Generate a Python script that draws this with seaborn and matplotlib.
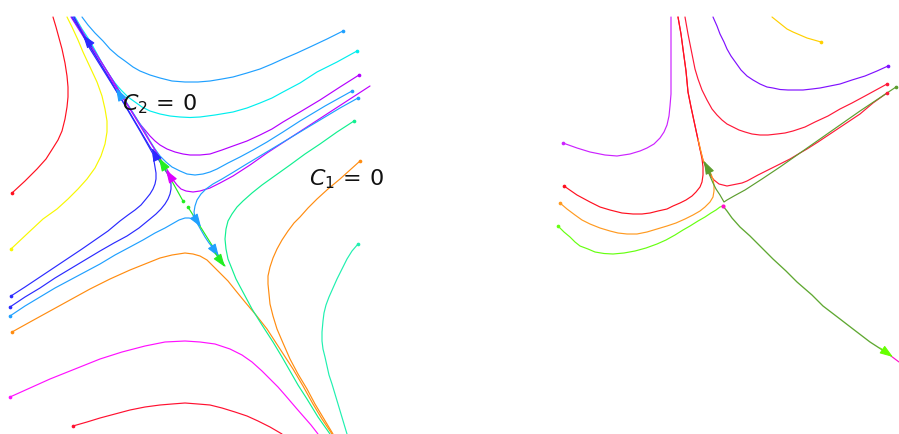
import matplotlib
matplotlib.use("Agg")
import matplotlib.pyplot as plt
import seaborn as sns

# ---------------- data (pixel coordinates) ----------------
# Left panel trajectories
L_red1_x = [53, 56, 59, 62, 65, 67, 68, 68, 67, 65, 62, 58, 53, 46, 37, 25, 12]
L_red1_y = [18, 28, 39, 50, 64, 77, 88, 98, 108, 120, 132, 141, 149, 160, 170, 182, 194]
L_yellow_x = [67, 72, 78, 83, 90, 97, 102, 105, 107, 107, 105, 101, 95, 87, 78, 68, 57, 43, 28, 11]
L_yellow_y = [18, 28, 41, 53, 68, 83, 97, 110, 122, 133, 145, 157, 169, 180, 190, 200, 210, 220, 234, 250]
L_lblue1_x = [82, 88, 95, 103, 110, 118, 125, 133, 140, 150, 160, 172, 185, 198, 210, 222, 233,
              247, 260, 272, 283, 297, 310, 327, 343]
L_lblue1_y = [18, 26, 34, 42, 50, 57, 62, 68, 72, 76, 79, 82, 83, 83, 82, 80, 78,
              74, 70, 65, 60, 54, 48, 40, 32]
L_cyan_x = [75, 82, 90, 96, 102, 108, 115, 121, 128, 135, 142, 150, 160, 170, 180, 190, 200,
            215, 233, 247, 260, 272, 283, 300, 317, 337, 357]
L_cyan_y = [18, 30, 42, 53, 64, 74, 84, 91, 98, 103, 108, 112, 115, 117, 118, 118.5, 118,
            116, 113, 109, 104, 99, 93, 84, 73, 63, 52]
L_purple1_x = [71, 105, 140, 145, 150, 155, 160, 167, 175, 183, 190, 200, 210, 222, 233,
               247, 260, 272, 283, 300, 320, 340, 359]
L_purple1_y = [18, 72, 125, 131, 137, 142, 146, 150, 153, 155, 156, 156, 155, 151, 147,
               142, 136, 130, 123, 113, 101, 88, 76]
L_lblue2_x = [73, 107, 140, 145, 150, 155, 160, 166, 172, 180, 187, 195, 203, 210, 217, 228,
              240, 253, 267, 283, 300, 325, 352]
L_lblue2_y = [18, 72, 125, 133, 142, 150, 157, 163, 168, 172, 175, 176, 175, 173, 170, 164,
              158, 151, 143, 133, 122, 107, 92]
L_purple2_x = [370, 350, 330, 310, 290, 267, 250, 233, 220, 210, 200, 193, 186, 181, 177, 174,
               171, 150, 130, 110, 90, 74]
L_purple2_y = [87, 100, 113, 126, 139, 154, 166, 177, 184, 189, 192, 193, 192, 190, 186, 182,
               177, 143, 110, 77, 45, 18]
L_lblue3_x = [358, 340, 320, 300, 280, 260, 245, 232, 222, 213, 206, 201, 197, 195, 194, 195,
              197, 201, 205, 209, 213]
L_lblue3_y = [99, 109, 121, 133, 145, 157, 166, 174, 180, 185, 190, 195, 201, 207, 213, 219,
              224, 231, 238, 244, 249]
L_lblue4_x = [10, 25, 40, 55, 70, 85, 100, 115, 130, 143, 155, 165, 172, 179, 185, 189, 193, 197]
L_lblue4_y = [317, 307, 298, 289, 281, 273, 265, 256, 248, 241, 234, 229, 225, 221, 219, 219, 220, 223]
L_blue1_x = [11, 25, 40, 55, 70, 82, 95, 108, 120, 128, 135, 141, 146, 150, 153, 155, 156, 156,
             155, 154, 153, 140, 120, 100, 84, 72]
L_blue1_y = [297, 288, 278, 268, 258, 250, 241, 232, 222, 216, 211, 206, 200, 195, 190, 185, 180,
             174, 168, 162, 155, 132, 98, 64, 37, 18]
L_blue2_x = [10, 25, 40, 55, 70, 85, 100, 114, 127, 139, 150, 156, 161, 165, 168, 170, 171, 171,
             170, 167, 163, 157, 150, 130, 110, 90, 74]
L_blue2_y = [308, 298, 289, 279, 270, 261, 252, 244, 237, 229, 220, 215, 210, 205, 200, 195, 190,
             185, 180, 174, 168, 158, 148, 114, 82, 50, 18]
L_orange1_x = [12, 30, 50, 70, 90, 110, 130, 145, 160, 172, 185, 193, 200, 207, 213, 220, 228,
               236, 245, 256, 267, 280, 293, 303, 313, 322, 332]
L_orange1_y = [333, 323, 312, 301, 290, 280, 271, 265, 259, 256, 254, 255, 257, 261, 267, 274, 282,
               292, 303, 316, 330, 350, 370, 387, 405, 420, 435]
L_sgreen1_x = [354, 337, 320, 305, 290, 276, 262, 252, 243, 237, 232, 228, 226, 225, 226, 228, 232,
               236, 244, 252, 262, 273, 282, 290, 298, 307, 318, 330]
L_sgreen1_y = [122, 133, 145, 155, 166, 176, 186, 194, 202, 208, 215, 222, 230, 240, 250, 260, 270,
               280, 295, 310, 326, 343, 358, 372, 386, 400, 418, 435]
L_orange2_x = [360, 350, 340, 328, 317, 308, 300, 294, 288, 282, 277, 273, 270, 268, 268, 269, 270,
               273, 277, 283, 290, 298, 307, 315, 324, 333]
L_orange2_y = [162, 171, 180, 190, 200, 209, 218, 224, 232, 241, 250, 259, 268, 277, 285, 295, 305,
               317, 330, 344, 360, 375, 390, 405, 420, 435]
L_sgreen2_x = [358, 352, 347, 342, 337, 333, 329, 326, 324, 323, 322, 322, 323, 325, 327, 329, 332,
               335, 338, 341, 344, 347]
L_sgreen2_y = [245, 252, 260, 270, 280, 289, 298, 306, 314, 322, 333, 342, 350, 358, 367, 376, 385,
               395, 405, 415, 425, 435]
L_magenta_x = [10, 30, 50, 75, 100, 122, 145, 165, 185, 200, 215, 230, 242, 252, 262, 270, 278,
               285, 291, 297, 304, 311, 318]
L_magenta_y = [398, 389, 380, 370, 360, 353, 347, 343, 342, 343, 345, 350, 356, 363, 372, 380, 388,
               396, 403, 410, 418, 426, 435]
L_red2_x = [73, 87, 100, 115, 130, 145, 160, 172, 185, 198, 210, 222, 235, 247, 258, 270, 282]
L_red2_y = [427, 423, 419, 415, 411, 408, 406, 405, 404, 405, 406, 409, 413, 417, 422, 428, 435]
L_greenA_x = [183, 159]
L_greenA_y = [202, 159]
L_greenB_x = [188, 225]
L_greenB_y = [208, 267]

# Right panel trajectories
R_magenta_x = [563, 577, 590, 605, 617, 630, 640, 647, 654, 660, 664, 667, 669, 670, 671, 671, 671,
               671, 671]
R_magenta_y = [144, 149, 153, 156, 157, 155, 152, 149, 145, 139, 133, 126, 117, 107, 95, 80, 60,
               40, 18]
R_yellow_x = [821, 814, 807, 800, 793, 787, 782, 777, 772]
R_yellow_y = [43, 41, 39, 36, 33, 30, 26, 22, 18]
R_purple_x = [888, 877, 865, 852, 840, 830, 820, 812, 803, 795, 788, 780, 773, 767, 760, 753, 747,
              741, 736, 731, 727, 724, 720, 717, 713]
R_purple_y = [67, 72, 77, 81, 85, 87, 89, 90, 91, 91, 91, 90.5, 89, 88, 85, 81, 77,
              71, 64, 57, 50, 43, 35, 27, 18]
R_red1_x = [887, 876, 865, 852, 840, 828, 815, 805, 793, 785, 777, 768, 760, 752, 745, 739, 733,
            727, 722, 717, 712, 707, 702, 698, 695, 693, 690, 688, 685]
R_red1_y = [85, 91, 97, 104, 110, 117, 123, 128, 132, 134, 135, 136, 136, 135, 133, 131, 128,
            125, 121, 116, 110, 101, 91, 80, 70, 60, 45, 35, 18]
R_red2_x = [887, 873, 860, 845, 830, 818, 807, 800, 790, 780, 770, 758, 747, 742, 737, 732, 727,
            723, 719, 714, 710, 706, 703, 700, 697, 694, 691, 688, 686, 683, 681, 678]
R_red2_y = [94, 104, 115, 125, 135, 143, 150, 154, 160, 165, 170, 176, 182, 184, 185, 186, 187,
            186, 185, 181, 176, 169, 161, 150, 136, 122, 108, 93, 72, 50, 35, 18]
R_red3_x = [564, 577, 590, 600, 610, 622, 633, 642, 650, 658, 667, 673, 680, 686, 692, 696, 700,
            702, 703, 703, 702, 700, 697, 694, 691, 688, 686, 683, 681, 678]
R_red3_y = [187, 196, 203, 208, 211, 214, 215, 215, 214, 212, 210, 207, 204, 201, 197, 193, 188,
            183, 176, 168, 160, 150, 136, 122, 108, 93, 72, 50, 35, 18]
R_orange_x = [560, 567, 575, 582, 590, 600, 610, 618, 627, 637, 647, 657, 667, 676, 685, 693, 700,
              705, 710, 713, 714, 714, 713, 711, 708, 705, 703, 698]
R_orange_y = [204, 210, 216, 221, 225, 229, 232, 234, 235, 235, 233, 230, 227, 224, 220, 216, 212,
              208, 203, 198, 192, 186, 180, 175, 170, 165, 161, 140]
R_green_x = [558, 564, 570, 575, 580, 588, 595, 604, 613, 624, 635, 646, 657, 666, 675, 683, 690,
             698, 705, 711, 716, 720, 723]
R_green_y = [227, 233, 238, 243, 247, 250, 253, 254.5, 255, 254, 252, 249, 245, 241, 236, 231, 227,
             222, 218, 214, 211, 208, 207]
R_olive_x = [896, 878, 860, 840, 820, 800, 780, 762, 745, 734, 727, 724, 720, 716, 713, 710, 707, 704]
R_olive_y = [88, 100, 112, 126, 140, 154, 168, 180, 191, 197, 201, 203, 196, 190, 184, 177, 170, 163]
R_unstable_x = [723, 727, 732, 740, 750, 762, 773, 786, 797, 812, 823, 840, 853, 870, 887, 899]
R_unstable_y = [207, 212, 219, 228, 237, 249, 260, 272, 283, 296, 307, 320, 330, 343, 354, 363]

# arrows: (tail x, tail y, head x, head y)
arrows_left = [(92, 48, 83, 36), (121, 98, 116, 89), (157, 160, 152, 149),
               (165, 169, 159, 159), (173, 182, 166, 171), (193, 216, 201, 228),
               (211, 246, 219, 258), (215, 254, 225, 268)]
arrows_left_colors = ["#2a2aff", "#1fa0ff", "#2a2aff", "#22ee22", "#dd00ff",
                      "#1fa0ff", "#1fa0ff", "#22ee22"]
arrows_right = [(880, 349, 893, 358), (711, 176, 704, 162)]
arrows_right_colors = ["#66ff00", "#5c9e2e"]

labels = [r"$C_2\,=\,0$", r"$C_1\,=\,0$"]
label_pos = [(122, 110), (309, 185)]

# ---------------- drawing ----------------
sns.set_style("white")
fig = plt.figure(figsize=(8.99, 4.35), dpi=100)
ax = fig.add_axes([0, 0, 1, 1])
ax.set_xlim(0, 899)
ax.set_ylim(435, 0)
ax.axis("off")

LW = 0.85


def curve(xs, ys, color, dot=0, lw=LW, z=2):
    sns.lineplot(x=xs, y=ys, sort=False, estimator=None, color=color,
                 linewidth=lw, ax=ax, zorder=z)
    if dot is not None:
        sns.scatterplot(x=[xs[dot]], y=[ys[dot]], color=color, s=7, linewidth=0,
                        ax=ax, zorder=z + 1)


curves = [
    (L_red1_x, L_red1_y, "#ff1020", -1),
    (L_yellow_x, L_yellow_y, "#f8f800", -1),
    (L_lblue1_x, L_lblue1_y, "#1fa0ff", -1),
    (L_cyan_x, L_cyan_y, "#00eeee", -1),
    (L_purple1_x, L_purple1_y, "#b400ff", -1),
    (L_lblue2_x, L_lblue2_y, "#1fa0ff", -1),
    (L_purple2_x, L_purple2_y, "#c000ff", None),
    (L_lblue3_x, L_lblue3_y, "#1fa0ff", 0),
    (L_lblue4_x, L_lblue4_y, "#1fa0ff", 0),
    (L_blue1_x, L_blue1_y, "#2a2aff", 0),
    (L_blue2_x, L_blue2_y, "#2a2aff", 0),
    (L_orange1_x, L_orange1_y, "#ff8c10", 0),
    (L_sgreen1_x, L_sgreen1_y, "#10f090", 0),
    (L_orange2_x, L_orange2_y, "#ff8c10", 0),
    (L_sgreen2_x, L_sgreen2_y, "#20f0b0", 0),
    (L_magenta_x, L_magenta_y, "#ff10ff", 0),
    (L_red2_x, L_red2_y, "#ff1030", 0),
    (L_greenA_x, L_greenA_y, "#22ee22", 0),
    (L_greenB_x, L_greenB_y, "#22ee22", 0),
    (R_magenta_x, R_magenta_y, "#cc22ff", 0),
    (R_yellow_x, R_yellow_y, "#ffd000", 0),
    (R_purple_x, R_purple_y, "#8010ff", 0),
    (R_red1_x, R_red1_y, "#ff1838", 0),
    (R_red2_x, R_red2_y, "#ff1838", 0),
    (R_red3_x, R_red3_y, "#ff1020", 0),
    (R_orange_x, R_orange_y, "#ff9a20", 0),
    (R_green_x, R_green_y, "#66ff11", 0),
    (R_olive_x, R_olive_y, "#5c9e2e", 0),
]

for xs, ys, c, d in curves:
    curve(xs, ys, c, dot=d)
# unstable branch from the saddle: green up to the arrow, magenta tail beyond it
curve(R_unstable_x[:-1], R_unstable_y[:-1], "#5fa832", dot=None, lw=0.95, z=4)
curve(R_unstable_x[-2:], R_unstable_y[-2:], "#ff10cc", dot=None, z=4)
sns.scatterplot(x=[R_unstable_x[0]], y=[R_unstable_y[0]], color="#ff10cc", s=9,
                linewidth=0, ax=ax, zorder=5)

for (x0, y0, x1, y1), c in zip(arrows_left + arrows_right,
                               arrows_left_colors + arrows_right_colors):
    ax.annotate("", xy=(x1, y1), xytext=(x0, y0),
                arrowprops=dict(arrowstyle="-|>,head_length=0.8,head_width=0.28",
                                color=c, lw=0.8, shrinkA=0, shrinkB=0),
                zorder=6)

for txt, (x, y) in zip(labels, label_pos):
    ax.text(x, y, txt, fontsize=16, va="baseline", ha="left", color="#111111",
            zorder=7)

fig.savefig("out.png", dpi=100)
